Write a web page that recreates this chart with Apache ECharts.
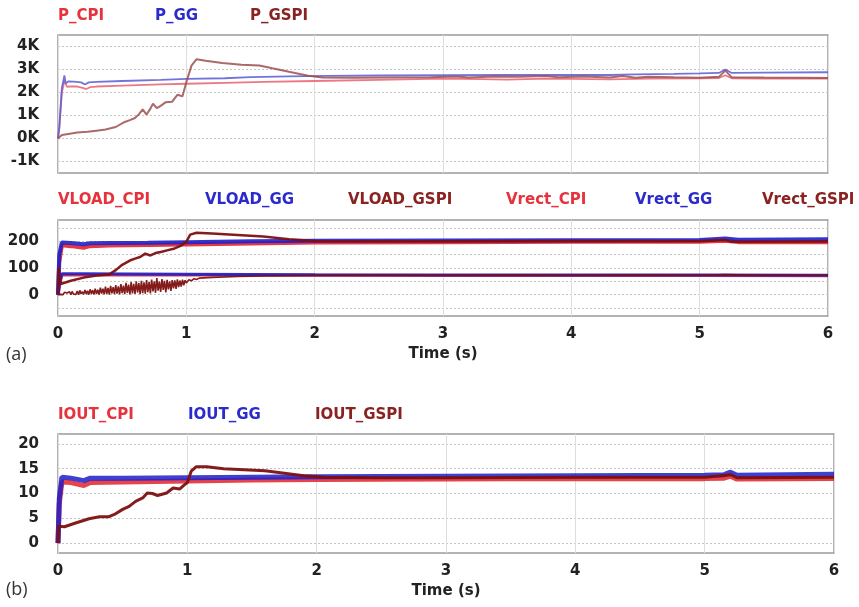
<!DOCTYPE html>
<html><head><meta charset="utf-8">
<script src="https://cdn.jsdelivr.net/npm/echarts@6/dist/echarts.min.js"></script>
<style>html,body{margin:0;padding:0;background:#fff}#c{width:859px;height:607px}</style>
</head><body><div id="c"></div>
<script>
// ---------- Panel 1: power ----------
const tP_CPI = [0,0.01,0.03,0.05,0.07,0.1,0.15,0.2,0.22,0.25,0.3,0.5,0.8,1.0,1.3,1.6,2.0,2.5,3.0,3.3,3.5,3.8,4.0,4.3,4.6,5.0,5.15,5.2,5.25,5.5,6.0];
const P_CPI  = [0,400,2000,2500,2250,2270,2260,2190,2150,2230,2260,2300,2350,2380,2420,2460,2500,2550,2600,2580,2560,2600,2590,2570,2600,2610,2630,2750,2620,2600,2600];
const tP_GG  = [0,0.01,0.03,0.05,0.06,0.08,0.12,0.18,0.21,0.24,0.3,0.5,0.8,1.0,1.3,1.5,1.8,2.1,2.5,3.0,3.5,4.0,4.3,4.5,4.8,5.0,5.15,5.2,5.25,5.5,6.0];
const P_GG   = [0,500,2200,2740,2400,2480,2470,2440,2350,2440,2460,2500,2550,2590,2620,2670,2700,2720,2740,2750,2760,2770,2760,2790,2810,2830,2850,3000,2850,2860,2880];
const tP_GSPI = [0,0.01,0.03,0.08,0.15,0.23,0.3,0.37,0.45,0.52,0.56,0.6,0.63,0.66,0.69,0.72,0.74,0.77,0.8,0.84,0.89,0.93,0.97,1.0,1.04,1.08,1.15,1.28,1.43,1.57,1.67,1.8,1.95,2.06,2.3,2.6,2.9,3.1,3.2,3.4,3.6,3.8,3.9,4.1,4.3,4.4,4.5,4.6,4.8,5.0,5.15,5.2,5.25,5.5,5.8,6.0];
const P_GSPI  = [0,60,150,200,260,290,340,390,500,720,800,890,1050,1270,1040,1300,1510,1320,1420,1580,1600,1900,1840,2450,3170,3450,3380,3280,3210,3170,3050,2900,2730,2650,2640,2650,2660,2700,2650,2700,2680,2720,2660,2700,2650,2720,2640,2690,2660,2640,2680,2950,2660,2650,2640,2630];

// ---------- Panel 2: voltages ----------
const tVLOAD = [0,0.01,0.03,0.1,0.2,0.25,0.4,0.7,1.0,1.5,2.0,3.0,4.0,5.0,5.2,5.3,6.0];
const VLOAD_CPI = [0,120,185,182,176,182,184,186,188,192,196,197,198,198,202,197,197];
const VLOAD_GG  = [0,150,196,194,189,193,194,195,197,200,202,203,204,205,211,206,208];
const tVLOAD_GSPI = [0,0.005,0.02,0.1,0.2,0.3,0.4,0.45,0.5,0.56,0.6,0.64,0.68,0.72,0.76,0.8,0.85,0.9,0.95,1.0,1.03,1.08,1.2,1.4,1.6,1.8,2.0,2.5,3,4,5,5.2,5.25,6];
const VLOAD_GSPI  = [0,100,40,52,64,72,76,92,112,128,135,141,154,147,156,160,166,172,182,198,225,232,229,224,218,208,201,200,200,201,200,205,198,199];
const tVrect = [0,0.01,0.03,0.2,1.0,2.0,3.0,4.0,5.0,6.0];
const Vrect_CPI = [0,30,74,74,74,73,72,72,72,71];
const Vrect_GG  = [0,40,78,78,77,75,74,74,74,73];
const tVrect_GSPI = [
  0,0.01,0.02,0.03,0.04,0.05,0.06,0.07,0.08,0.09,0.10,
  0.11,0.12,0.13,0.14,0.15,0.16,0.17,0.18,0.19,0.20,
  0.21,0.22,0.23,0.24,0.25,0.26,0.27,0.28,0.29,0.30,
  0.31,0.32,0.33,0.34,0.35,0.36,0.37,0.38,0.39,0.40,
  0.41,0.42,0.43,0.44,0.45,0.46,0.47,0.48,0.49,0.50,
  0.51,0.52,0.53,0.54,0.55,0.56,0.57,0.58,0.59,0.60,
  0.61,0.62,0.63,0.64,0.65,0.66,0.67,0.68,0.69,0.70,
  0.71,0.72,0.73,0.74,0.75,0.76,0.77,0.78,0.79,0.80,
  0.81,0.82,0.83,0.84,0.85,0.86,0.87,0.88,0.89,0.90,
  0.91,0.92,0.93,0.94,0.95,0.96,0.97,0.98,0.99,1.00,
  1.02,1.04,1.06,1.08,1.10,1.2,1.4,1.6,1.8,2.0,2.5,3.0,3.5,4.0,4.5,5.0,5.2,5.5,6.0];
const Vrect_GSPI = [
  0,4,1,7,0,9,2,6,1,11,0,
  12,2,9,1,14,0,16,3,11,1,
  18,2,15,0,20,3,17,1,22,2,
  19,0,26,4,22,1,30,3,25,0,
  33,5,28,2,36,4,31,1,40,6,
  34,2,44,7,38,1,47,5,41,3,
  50,8,43,2,52,6,46,4,55,9,
  48,5,57,12,50,7,62,15,49,10,
  58,18,52,8,56,20,50,14,55,24,
  54,22,57,28,53,30,56,35,54,44,
  56,52,60,57,62,65,68,70,71,72,73,73,74,73,74,73,75,73,73];

// ---------- Panel 3: output current ----------
const tIOUT = [0,0.01,0.03,0.1,0.2,0.25,0.5,1.0,1.5,2.0,3.0,4.0,5.0,5.15,5.2,5.25,6.0];
const IOUT_CPI = [0,8,12.3,12.2,11.6,12.2,12.3,12.5,12.7,12.8,12.9,13.0,13.0,13.1,13.5,12.9,13.0];
const IOUT_GG  = [0,9,13.3,13.1,12.6,13.1,13.1,13.2,13.3,13.4,13.5,13.6,13.7,13.8,14.3,13.7,13.9];
const tIOUT_GSPI = [0,0.005,0.015,0.05,0.13,0.24,0.32,0.39,0.445,0.5,0.55,0.6,0.655,0.69,0.73,0.77,0.84,0.89,0.94,0.97,1.0,1.03,1.07,1.15,1.28,1.44,1.6,1.75,1.9,2.06,2.5,3,4,5,5.2,5.25,6];
const IOUT_GSPI  = [0,3.4,3.1,3.3,4.0,4.9,5.3,5.3,5.9,6.8,7.4,8.4,9.1,10.1,10.0,9.6,10.1,11.1,10.9,11.6,12.2,14.5,15.4,15.4,15.0,14.8,14.6,14.1,13.6,13.3,13.2,13.2,13.3,13.3,13.8,13.2,13.3];

// ---------- axis ticks / labels ----------
const yTicksP = [-1000,0,1000,2000,3000,4000];
const yTicksV = [-50,0,50,100,150,200,250];
const yLabelsV = [0,100,200];
const yTicksI = [0,5,10,15,20];

const legendP = ['P_CPI','P_GG','P_GSPI'];
const legendV = ['VLOAD_CPI','VLOAD_GG','VLOAD_GSPI','Vrect_CPI','Vrect_GG','Vrect_GSPI'];
const legendI = ['IOUT_CPI','IOUT_GG','IOUT_GSPI'];

const RED = '#e3222c', BLUE = '#1f1fc8', DARK = '#7d1010';
const RED_T = '#e6323c', BLUE_T = '#2b2bcc', DARK_T = '#8a2222';

function zip(t, v) { return t.map((x, i) => [x, v[i]]); }
const FONT = 'DejaVu Sans';

const chart = echarts.init(document.getElementById('c'), null, {renderer: 'canvas'});

const grids = [
  {left: 58, right: 31, top: 35, height: 138},
  {left: 58, right: 31, top: 220, height: 96},
  {left: 58, right: 25, top: 434, height: 119}
].map(g => Object.assign(g, {show: true, borderColor: '#9a9a9a', borderWidth: 1.5, backgroundColor: 'transparent'}));

const xAxes = [0,1,2].map(i => ({
  gridIndex: i, type: 'value', min: 0, max: 6, interval: 1,
  axisLine: {show: false}, axisTick: {show: false},
  axisLabel: {show: i > 0, fontFamily: FONT, fontWeight: 'bold', fontSize: 15, color: '#222', margin: 11},
  splitLine: {show: true, lineStyle: {color: '#dedede', width: 1}},
  name: i > 0 ? 'Time (s)' : '', nameLocation: 'middle', nameGap: 31,
  nameTextStyle: {fontFamily: FONT, fontWeight: 'bold', fontSize: 15, color: '#222'}
}));

function yAx(i, min, max, ticks, labels, fmt) {
  return {
    gridIndex: i, type: 'value', min: min, max: max,
    axisLine: {show: false},
    axisTick: {show: false, customValues: ticks},
    axisLabel: {customValues: labels, formatter: fmt, fontFamily: FONT, fontWeight: 'bold', fontSize: 15, color: '#222', margin: 19},
    splitLine: {show: true, lineStyle: {color: '#c4c4c4', type: [2, 2], width: 1}}
  };
}
const yAxes = [
  yAx(0, -1500, 4500, yTicksP, yTicksP, v => (v / 1000) + 'K'),
  yAx(1, -80, 280, yTicksV, yLabelsV, v => String(v)),
  yAx(2, -2, 22, yTicksI, yTicksI, v => String(v))
];

function ser(name, idx, t, v, color, width, opacity) {
  return {
    name: name, type: 'line', xAxisIndex: idx, yAxisIndex: idx,
    data: zip(t, v), showSymbol: false, symbol: 'none', animation: false,
    lineStyle: {color: color, width: width, opacity: opacity}, itemStyle: {color: color}
  };
}

const series = [
  ser('P_CPI', 0, tP_CPI, P_CPI, '#e8606c', 1.8, 0.85),
  ser('P_GG', 0, tP_GG, P_GG, '#5a5ad6', 1.8, 0.85),
  ser('P_GSPI', 0, tP_GSPI, P_GSPI, '#9c4f50', 2, 0.85),
  ser('VLOAD_CPI', 1, tVLOAD, VLOAD_CPI, RED, 4, 0.9),
  ser('Vrect_CPI', 1, tVrect, Vrect_CPI, RED, 3, 0.9),
  ser('VLOAD_GG', 1, tVLOAD, VLOAD_GG, BLUE, 4, 0.9),
  ser('Vrect_GG', 1, tVrect, Vrect_GG, BLUE, 3, 0.9),
  ser('VLOAD_GSPI', 1, tVLOAD_GSPI, VLOAD_GSPI, DARK, 2.5, 0.95),
  ser('Vrect_GSPI', 1, tVrect_GSPI, Vrect_GSPI, DARK, 1.6, 0.95),
  ser('IOUT_CPI', 2, tIOUT, IOUT_CPI, RED, 5, 0.85),
  ser('IOUT_GG', 2, tIOUT, IOUT_GG, BLUE, 5, 0.85),
  ser('IOUT_GSPI', 2, tIOUT_GSPI, IOUT_GSPI, DARK, 3, 0.95)
];

const legendColor = n => n.endsWith('GSPI') ? DARK_T : (n.endsWith('GG') ? BLUE_T : RED_T);
// legend text start positions (layout)
const legendLeftP = [58, 155, 250];
const legendLeftV = [58, 205, 348, 506, 635, 762];
const legendLeftI = [58, 188, 315];
function legs(names, lefts, top) {
  return names.map((n, i) => ({
    top: top, left: lefts[i] - 5, itemWidth: 0, itemHeight: 0, padding: 0,
    icon: 'rect', selectedMode: false,
    data: [{name: n, textStyle: {color: legendColor(n)}}],
    textStyle: {fontFamily: FONT, fontWeight: 'bold', fontSize: 15}
  }));
}

chart.setOption({
  backgroundColor: '#ffffff',
  animation: false,
  title: [
    {text: '(a)', left: 6, top: 346, padding: 0, textStyle: {fontFamily: 'Open Sans', fontWeight: 'normal', fontSize: 18, color: '#333'}},
    {text: '(b)', left: 6, top: 581, padding: 0, textStyle: {fontFamily: 'Open Sans', fontWeight: 'normal', fontSize: 18, color: '#333'}}
  ],
  legend: [].concat(legs(legendP, legendLeftP, 9), legs(legendV, legendLeftV, 193), legs(legendI, legendLeftI, 408)),
  grid: grids,
  xAxis: xAxes,
  yAxis: yAxes,
  series: series
});
</script>
</body></html>
